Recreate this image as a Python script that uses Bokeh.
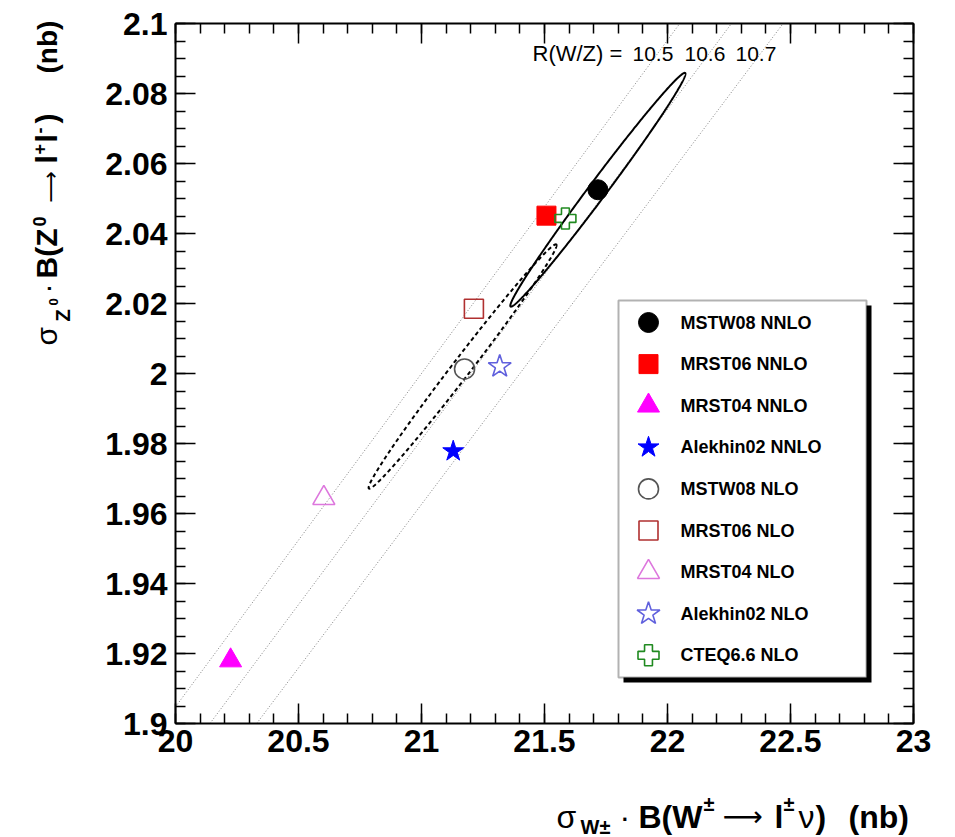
import numpy as np
from bokeh.plotting import figure
from bokeh.models import (Label, BoxAnnotation, LinearAxis, FixedTicker, Range1d,
                          CustomJSTickFormatter)
from bokeh.embed import file_html
from bokeh.resources import INLINE

# ---------------- data ----------------
pdf_names = ["MSTW08 NNLO", "MRST06 NNLO", "MRST04 NNLO", "Alekhin02 NNLO",
             "MSTW08 NLO", "MRST06 NLO", "MRST04 NLO", "Alekhin02 NLO", "CTEQ6.6 NLO"]
sigma_w = [21.717, 21.508, 20.224, 21.129, 21.175, 21.213, 20.603, 21.318, 21.585]
sigma_z = [2.0525, 2.0451, 1.9180, 1.9778, 2.0013, 2.0185, 1.9644, 2.0020, 2.0443]
marker_types = ["circle", "square", "triangle", "star",
                "circle", "square", "triangle", "star", "plus"]
marker_fill = ["black", "#ff0000", "#ff00ff", "#0000ff", None, None, None, None, None]
marker_line = ["black", "#ff0000", "#ff00ff", "#0000ff",
               "#555555", "#b03030", "#dd77dd", "#6060dd", "#208a20"]
marker_size = [20, 19, 22, 22, 20, 19, 22, 24, 21]

ratio_values = [10.5, 10.6, 10.7]
ratio_labels = ["10.5", "10.6", "10.7"]

# error ellipses: centre x, centre y, sigma_x, sigma_y, correlation
ellipse_nnlo = [21.717, 2.0525, 0.356, 0.0334, 0.992]
ellipse_nlo = [21.167, 2.0020, 0.382, 0.0349, 0.9925]

x_ticks = [20.0, 20.5, 21.0, 21.5, 22.0, 22.5, 23.0]
x_tick_labels = ["20", "20.5", "21", "21.5", "22", "22.5", "23"]
y_ticks = [1.90, 1.92, 1.94, 1.96, 1.98, 2.00, 2.02, 2.04, 2.06, 2.08, 2.10]
y_tick_labels = ["1.9", "1.92", "1.94", "1.96", "1.98", "2", "2.02", "2.04",
                 "2.06", "2.08", "2.1"]

X0, X1, Y0, Y1 = 20.0, 23.0, 1.9, 2.1

# ---------------- layout constants (canvas pixels) ----------------
W, H = 955, 837
FL, FR, FT, FB = 175, 913, 23, 723          # plot box in canvas pixels
KX = (FR - FL) / (X1 - X0)                   # px per x unit
KY = (FB - FT) / (Y1 - Y0)                   # px per y unit
FONT = "Liberation Sans"
MID = 0.36                                   # baseline -> text middle, in em


def sx(X):
    return X


def sy(Y):
    return H - Y


def px2x(X):
    return X0 + (X - FL) / KX


def px2y(Y):
    return Y1 - (Y - FT) / KY


p = figure(width=W, height=H, output_backend="svg", toolbar_location=None,
           x_range=Range1d(X0 - FL / KX, X1 + (W - FR) / KX),
           y_range=Range1d(Y0 - (H - FB) / KY, Y1 + FT / KY),
           x_axis_type=None, y_axis_type=None,
           min_border_left=0, min_border_right=0, min_border_top=0, min_border_bottom=0)
p.background_fill_color = "white"
p.border_fill_color = "white"
p.outline_line_color = None
p.xgrid.visible = False
p.ygrid.visible = False


def tick_fmt(ticks, labels):
    return CustomJSTickFormatter(args=dict(t=ticks, l=labels), code="""
        const i = t.findIndex(v => Math.abs(v - tick) < 1e-6);
        return i >= 0 ? l[i] : '';
    """)


blank_fmt = CustomJSTickFormatter(code="return '';")

x_minor = [round(X0 + 0.1 * i, 4) for i in range(31)]
y_minor = [round(Y0 + 0.005 * i, 4) for i in range(41)]


def style_axis(ax, labels):
    ax.axis_line_color = "black"
    ax.axis_line_width = 2
    ax.major_tick_in = 20
    ax.major_tick_out = 0
    ax.minor_tick_in = 10
    ax.minor_tick_out = 0
    ax.major_tick_line_color = "black"
    ax.minor_tick_line_color = "black"
    ax.major_tick_line_width = 1.5
    ax.minor_tick_line_width = 1.5
    if labels:
        ax.major_label_text_font = FONT
        ax.major_label_text_font_style = "bold"
        ax.major_label_text_font_size = "32px"
        ax.major_label_text_color = "black"
    else:
        ax.major_label_text_font_size = "1px"
        ax.major_label_standoff = 0


xb = LinearAxis(ticker=FixedTicker(ticks=x_ticks, minor_ticks=x_minor),
                formatter=tick_fmt(x_ticks, x_tick_labels),
                fixed_location=Y0, bounds=(X0, X1))
style_axis(xb, True)
xb.major_label_standoff = 6
p.add_layout(xb, "below")

xt = LinearAxis(ticker=FixedTicker(ticks=x_ticks, minor_ticks=x_minor), formatter=blank_fmt,
                fixed_location=Y1, bounds=(X0, X1))
style_axis(xt, False)
p.add_layout(xt, "above")

yl = LinearAxis(ticker=FixedTicker(ticks=y_ticks, minor_ticks=y_minor),
                formatter=tick_fmt(y_ticks, y_tick_labels),
                fixed_location=X0, bounds=(Y0, Y1))
style_axis(yl, True)
yl.major_label_standoff = 8
p.add_layout(yl, "left")

yr = LinearAxis(ticker=FixedTicker(ticks=y_ticks, minor_ticks=y_minor), formatter=blank_fmt,
                fixed_location=X1, bounds=(Y0, Y1))
style_axis(yr, False)
p.add_layout(yr, "right")

# ---------------- constant-ratio lines (clipped to the plot box) ----------------
for r in ratio_values:
    xa = max(X0, Y0 * r)
    xe = min(X1, Y1 * r)
    xl = np.array([xa, xe])
    p.line(xl, xl / r, line_color="#808080", line_width=1, line_dash="1 2")

# ---------------- ellipses ----------------
t = np.linspace(0, 2 * np.pi, 500)


def ellipse(par):
    cx, cy, sxx, syy, rho = par
    return cx + sxx * np.cos(t), cy + syy * np.cos(t - np.arccos(rho))


ex, ey = ellipse(ellipse_nnlo)
p.line(ex, ey, line_color="black", line_width=2)
ex, ey = ellipse(ellipse_nlo)
p.line(ex, ey, line_color="black", line_width=2, line_dash="4 3")

# ---------------- points ----------------
for i in range(len(pdf_names)):
    p.scatter([sigma_w[i]], [sigma_z[i]], marker=marker_types[i], size=marker_size[i],
              fill_color=marker_fill[i], line_color=marker_line[i],
              line_width=1 if marker_fill[i] else 1.6)


# ---------------- text helper (anchor given at baseline start) ----------------
def piece(text, X, Y, size, bold=True, angle=0.0, font=FONT):
    if angle == 0.0:
        xs_, ys_ = X, Y - MID * size
    else:
        xs_, ys_ = X - MID * size, Y
    p.add_layout(Label(x=sx(xs_), y=sy(ys_), x_units="screen", y_units="screen",
                       text=text, text_font=font, text_font_size=f"{size}px",
                       text_font_style="bold" if bold else "normal",
                       text_color="black", text_baseline="middle",
                       text_align="left", angle=angle))


# ---------------- R(W/Z) label ----------------
piece("R(W/Z) =", 532, 61, 22, bold=False)
for lab, X in zip(ratio_labels, [632, 684, 735]):
    piece(lab, X, 61, 21, bold=False)

# ---------------- legend ----------------
LX0, LY0, LX1, LY1 = 618, 300, 866, 677
p.add_layout(BoxAnnotation(left=sx(LX0 + 5), right=sx(LX1 + 5), top=sy(LY0 + 5), bottom=sy(LY1 + 5),
                           left_units="screen", right_units="screen",
                           top_units="screen", bottom_units="screen",
                           fill_color="black", fill_alpha=1, line_color=None, level="underlay"))
p.add_layout(BoxAnnotation(left=sx(LX0), right=sx(LX1), top=sy(LY0), bottom=sy(LY1),
                           left_units="screen", right_units="screen",
                           top_units="screen", bottom_units="screen",
                           fill_color="white", fill_alpha=1, line_color="black",
                           line_width=2, level="underlay"))
for i, name in enumerate(pdf_names):
    Yc = 322 + 41.6 * i
    p.scatter([px2x(648)], [px2y(Yc)], marker=marker_types[i], size=marker_size[i],
              fill_color=marker_fill[i], line_color=marker_line[i],
              line_width=1 if marker_fill[i] else 1.6)
    p.add_layout(Label(x=sx(680), y=sy(Yc), x_units="screen", y_units="screen",
                       text=name, text_font=FONT, text_font_style="bold",
                       text_font_size="18px", text_color="black", text_baseline="middle"))

# ---------------- axis titles ----------------
# x title: sigma_{W±} · B(W± → l±ν)  (nb)
piece("σ", 556, 828, 32, bold=False)
piece("W±", 580, 834, 20)
piece("·", 619, 828, 32, bold=False)
piece("B(W", 638, 828, 32)
piece("±", 703, 811, 20)
piece("⟶", 722, 826, 28, bold=False, font="DejaVu Sans")
piece("l", 774, 828, 32)
piece("±", 783, 811, 20)
piece("ν", 798, 828, 32, bold=False)
piece(")", 815, 828, 32)
piece("(nb)", 848, 828, 32)

# y title (rotated): sigma_{Z0} · B(Z0 → l+l-)  (nb)
A = np.pi / 2
piece("σ", 57, 345, 30, bold=False, angle=A)
piece("Z", 70, 321, 20, angle=A)
piece("0", 58, 305, 13, angle=A)
piece("·", 57, 293, 30, bold=False, angle=A)
piece("B(Z", 57, 278, 30, angle=A)
piece("0", 45, 226, 18, angle=A)
piece("⟶", 58, 202, 22, bold=False, angle=A, font="DejaVu Sans")
piece("l", 57, 163, 30, angle=A)
piece("+", 45, 154, 18, angle=A)
piece("l", 57, 142, 30, angle=A)
piece("-", 45, 133, 18, angle=A)
piece(")", 57, 123, 30, angle=A)
piece("(nb)", 57, 73, 28, angle=A)

open("out.html", "w").write(file_html(p, INLINE))
